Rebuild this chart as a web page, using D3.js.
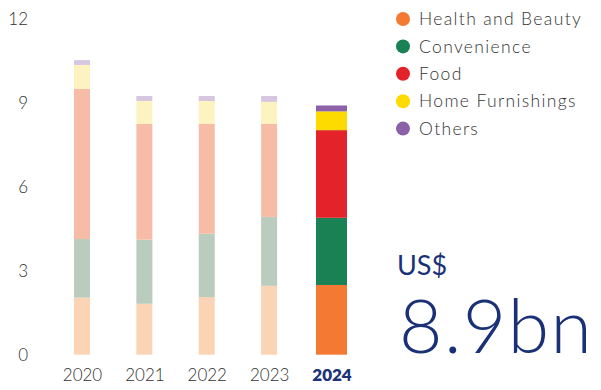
<!DOCTYPE html>
<html>
<head>
<meta charset="utf-8">
<script src="https://cdn.jsdelivr.net/npm/d3@7"></script>
<style>
  html, body { margin: 0; padding: 0; background: #fff; }
  svg { display: block; font-family: Lato, "Noto Sans", sans-serif; }
</style>
</head>
<body>
<svg id="chart" width="601" height="390"></svg>
<script>
// Sales by segment, US$ billion
const years = ["2020", "2021", "2022", "2023", "2024"];
const segments = ["Health and Beauty", "Convenience", "Food", "Home Furnishings", "Others"];
const healthBeauty    = [2.04, 1.82, 2.06, 2.46, 2.49];
const convenience     = [2.09, 2.29, 2.26, 2.46, 2.40];
const food            = [5.36, 4.13, 3.92, 3.32, 3.13];
const homeFurnishings = [0.86, 0.82, 0.82, 0.79, 0.67];
const others          = [0.17, 0.18, 0.18, 0.21, 0.21];
const yTicks = [0, 3, 6, 9, 12];
const currentYear = "2024";
const headlineUnit = "US$";
const headlineValue = "8.9bn";

const strong = ["#F47A33", "#1A8155", "#E42229", "#FDDB00", "#8B62A8"];
const faded  = ["#FBD3B5", "#B9CCBD", "#F7BCA8", "#FCF3C0", "#D6C6E0"];

const seriesByKey = {
  "Health and Beauty": healthBeauty,
  "Convenience": convenience,
  "Food": food,
  "Home Furnishings": homeFurnishings,
  "Others": others
};
const rows = years.map((y, i) => {
  const r = { year: y };
  segments.forEach(s => r[s] = seriesByKey[s][i]);
  return r;
});
const stacked = d3.stack().keys(segments)(rows);

const svg = d3.select("#chart");
const x = d3.scalePoint().domain(years).range([82, 331.5]);
const y = d3.scaleLinear().domain([0, 12]).range([354.7, 18.7]);
const barW = yr => yr === currentYear ? 31 : 16;

// y-axis labels only (no axis line or tick marks)
const yAxis = d3.axisLeft(y).tickValues(yTicks).tickSize(0).tickPadding(0);
const gy = svg.append("g").attr("transform", "translate(28,0)").call(yAxis);
gy.select(".domain").remove();
gy.selectAll("text")
  .attr("fill", "#333")
  .style("font-size", "17px")
  .style("font-family", "Lato, 'Noto Sans', sans-serif")
  .style("font-weight", 300);

// stacked bars
stacked.forEach((layer, si) => {
  svg.append("g")
    .selectAll("rect")
    .data(layer)
    .join("rect")
    .attr("x", d => x(d.data.year) - barW(d.data.year) / 2)
    .attr("width", d => barW(d.data.year))
    .attr("y", d => y(d[1]))
    .attr("height", d => y(d[0]) - y(d[1]))
    .attr("fill", d => d.data.year === currentYear ? strong[si] : faded[si]);
});

// x-axis labels
const xAxis = d3.axisBottom(x).tickSize(0).tickPadding(0);
const gx = svg.append("g").attr("transform", "translate(0,369)").call(xAxis);
gx.select(".domain").remove();
gx.selectAll("text")
  .attr("fill", d => d === currentYear ? "#1B3278" : "#333")
  .style("font-size", "17px")
  .style("font-family", "Lato, 'Noto Sans', sans-serif")
  .style("font-weight", d => d === currentYear ? 800 : 300);

// legend
const legend = svg.append("g").selectAll("g")
  .data(segments)
  .join("g")
  .attr("transform", (d, i) => `translate(403,${19 + i * 27.4})`);
legend.append("circle").attr("r", 7).attr("fill", (d, i) => strong[i]);
legend.append("text")
  .attr("x", 16).attr("dy", "0.35em")
  .attr("fill", "#333")
  .style("font-size", "17.5px")
  .style("font-weight", 300)
  .style("letter-spacing", "1.35px")
  .text(d => d);

// headline total
svg.append("text")
  .attr("x", 397).attr("y", 275)
  .attr("fill", "#1A3178")
  .style("font-size", "27px")
  .style("font-weight", 400)
  .text(headlineUnit);
svg.append("text")
  .attr("x", 399).attr("y", 353)
  .attr("fill", "#1A3178")
  .style("font-size", "75px")
  .style("font-weight", 300)
  .style("letter-spacing", "1.4px")
  .text(headlineValue);
</script>
</body>
</html>
